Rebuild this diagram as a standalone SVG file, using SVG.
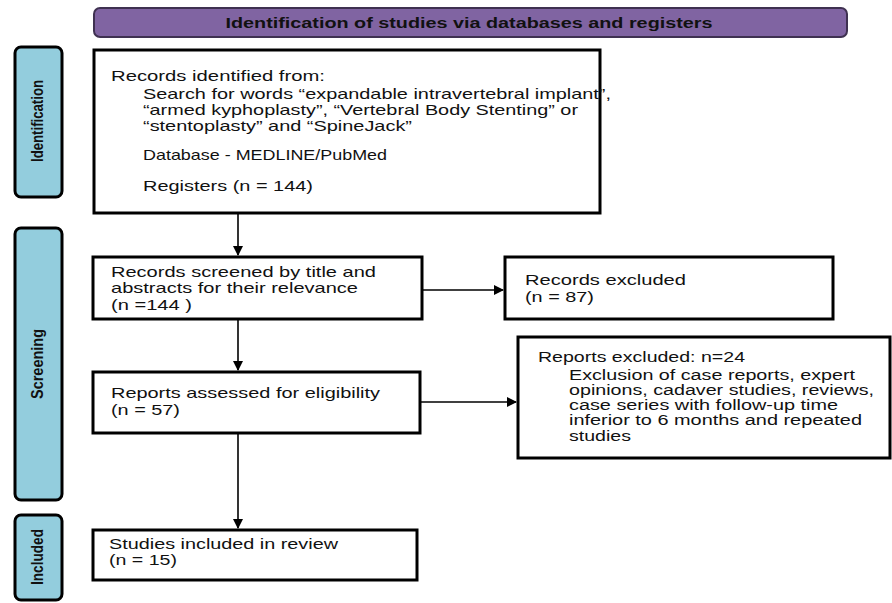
<svg xmlns="http://www.w3.org/2000/svg" width="892" height="603" viewBox="0 0 892 603">
<defs>
<style>
.box{fill:#fff;stroke:#000;stroke-width:3}
.side{fill:#93CDDD;stroke:#000;stroke-width:3}
.t{font-family:"Liberation Sans",Arial,sans-serif;font-size:15px;fill:#111}
.s{font-size:14px}
.sl{font-family:"Liberation Sans",Arial,sans-serif;font-size:17px;font-weight:bold;fill:#111}
.con{stroke:#000;stroke-width:1.6;fill:none;marker-end:url(#ah)}
</style>
<marker id="ah" viewBox="0 0 10 10" refX="9" refY="5" markerWidth="10" markerHeight="10" markerUnits="userSpaceOnUse" orient="auto">
<path d="M0,0 L10,5 L0,10 z" fill="#000"/>
</marker>
</defs>
<rect width="892" height="603" fill="#fff"/>
<g id="title">
<rect x="94" y="8" width="753" height="29" rx="6" fill="#8064A2" stroke="#3F3151" stroke-width="2"/>
<text x="469" y="28" text-anchor="middle" font-family="Liberation Sans,Arial,sans-serif" font-size="14" font-weight="bold" fill="#111" textLength="487" lengthAdjust="spacingAndGlyphs">Identification of studies via databases and registers</text>
</g>
<g id="side-identification">
<rect class="side" x="15" y="47" width="47" height="150" rx="6"/>
<text class="sl" transform="translate(43,121) rotate(-90)" text-anchor="middle" textLength="82" lengthAdjust="spacingAndGlyphs">Identification</text>
</g>
<g id="side-screening">
<rect class="side" x="15" y="228" width="47" height="272" rx="6"/>
<text class="sl" transform="translate(43,364) rotate(-90)" text-anchor="middle" textLength="70" lengthAdjust="spacingAndGlyphs">Screening</text>
</g>
<g id="side-included">
<rect class="side" x="15" y="515" width="47" height="85" rx="6"/>
<text class="sl" transform="translate(43,557) rotate(-90)" text-anchor="middle" textLength="56" lengthAdjust="spacingAndGlyphs">Included</text>
</g>
<g id="identified">
<rect class="box" x="94" y="50" width="506" height="163"/>
<text class="t" x="111" y="81" textLength="214" lengthAdjust="spacingAndGlyphs">Records identified from:</text>
<text class="t" x="143" y="99" textLength="468" lengthAdjust="spacingAndGlyphs">Search for words “expandable intravertebral implant”,</text>
<text class="t" x="143" y="115" textLength="435" lengthAdjust="spacingAndGlyphs">“armed kyphoplasty”, “Vertebral Body Stenting” or</text>
<text class="t" x="143" y="131" textLength="269" lengthAdjust="spacingAndGlyphs">“stentoplasty” and “SpineJack”</text>
<text class="t" x="143" y="160" textLength="244" lengthAdjust="spacingAndGlyphs">Database - MEDLINE/PubMed</text>
<text class="t" x="143" y="191" textLength="170" lengthAdjust="spacingAndGlyphs">Registers (n = 144)</text>
</g>
<g id="screened">
<rect class="box" x="93" y="257" width="329" height="62"/>
<text class="t" x="111" y="277" textLength="265" lengthAdjust="spacingAndGlyphs">Records screened by title and</text>
<text class="t" x="111" y="293" textLength="247" lengthAdjust="spacingAndGlyphs">abstracts for their relevance</text>
<text class="t" x="111" y="310" textLength="81" lengthAdjust="spacingAndGlyphs">(n =144 )</text>
</g>
<g id="records-excluded">
<rect class="box" x="505" y="257" width="328" height="62"/>
<text class="t" x="525" y="285" textLength="161" lengthAdjust="spacingAndGlyphs">Records excluded</text>
<text class="t" x="525" y="302" textLength="69" lengthAdjust="spacingAndGlyphs">(n = 87)</text>
</g>
<g id="assessed">
<rect class="box" x="93" y="372" width="327" height="61"/>
<text class="t" x="111" y="398" textLength="269" lengthAdjust="spacingAndGlyphs">Reports assessed for eligibility</text>
<text class="t" x="111" y="415" textLength="69" lengthAdjust="spacingAndGlyphs">(n = 57)</text>
</g>
<g id="reports-excluded">
<rect class="box" x="518" y="337" width="372" height="121"/>
<text class="t s" x="538" y="362" textLength="207" lengthAdjust="spacingAndGlyphs">Reports excluded: n=24</text>
<text class="t s" x="569" y="380" textLength="286" lengthAdjust="spacingAndGlyphs">Exclusion of case reports, expert</text>
<text class="t s" x="569" y="395" textLength="305" lengthAdjust="spacingAndGlyphs">opinions, cadaver studies, reviews,</text>
<text class="t s" x="569" y="410" textLength="269" lengthAdjust="spacingAndGlyphs">case series with follow-up time</text>
<text class="t s" x="569" y="425" textLength="293" lengthAdjust="spacingAndGlyphs">inferior to 6 months and repeated</text>
<text class="t s" x="569" y="441" textLength="62" lengthAdjust="spacingAndGlyphs">studies</text>
</g>
<g id="included">
<rect class="box" x="93" y="530" width="324" height="50"/>
<text class="t" x="109" y="549" textLength="229" lengthAdjust="spacingAndGlyphs">Studies included in review</text>
<text class="t" x="109" y="565" textLength="68" lengthAdjust="spacingAndGlyphs">(n = 15)</text>
</g>
<g id="connectors">
<line class="con" x1="238" y1="213" x2="238" y2="255"/>
<line class="con" x1="238" y1="319" x2="238" y2="370"/>
<line class="con" x1="238" y1="433" x2="238" y2="528"/>
<line class="con" x1="422" y1="290" x2="503" y2="290"/>
<line class="con" x1="420" y1="402" x2="516" y2="402"/>
</g>
</svg>
